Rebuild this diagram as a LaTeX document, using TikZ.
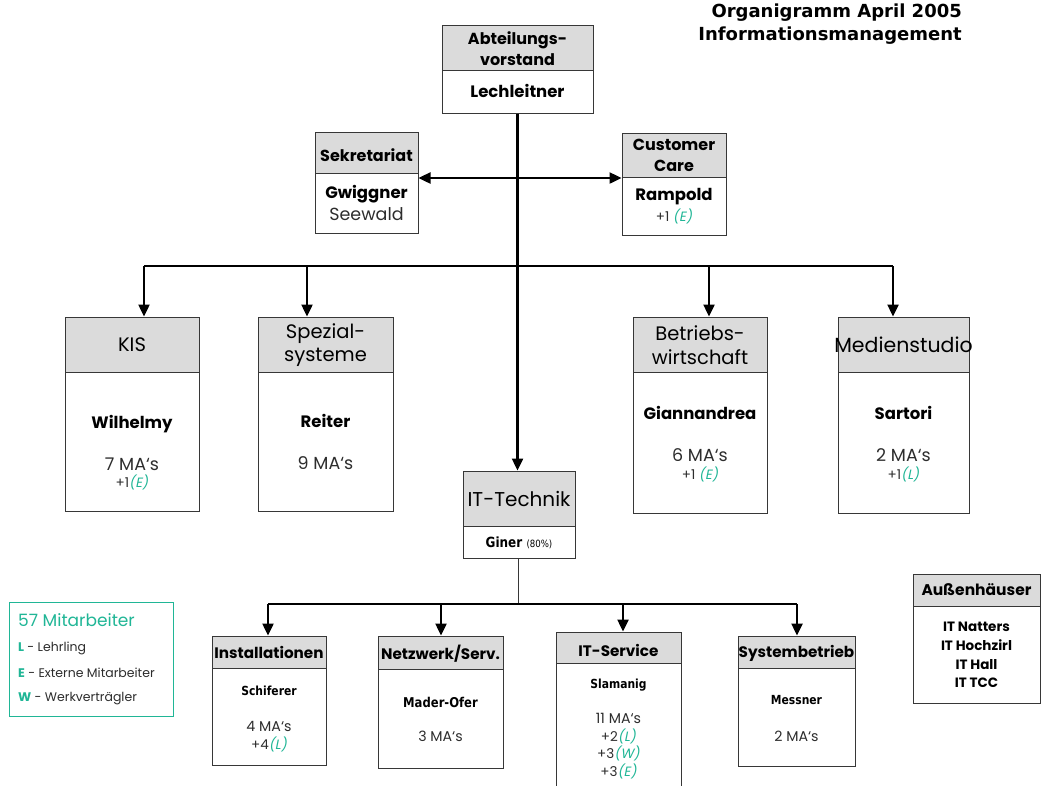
\documentclass[tikz,border=0pt]{standalone}
\usepackage{fontspec}
\usetikzlibrary{arrows.meta,fit,calc}
\newfontfamily\gothic{Poppins}
\newfontfamily\gothicsl{Poppins}[FakeSlant=0.2]
\newfontfamily\tahoma{DejaVu Sans}[FakeStretch=0.86]
\newfontfamily\verd{DejaVu Sans}
\definecolor{hdrfillc}{RGB}{219,219,219}
\definecolor{framec}{RGB}{55,55,55}
\definecolor{accent}{RGB}{32,182,150}
\definecolor{txtgray}{RGB}{45,45,45}
\newcommand\fsz[1]{\fontsize{#1}{#1}\selectfont}
% count line with a coloured, slanted suffix such as +1(E)
\newcommand\ext[2]{#1{\color{accent}\gothicsl(#2)}}
% unit box: gray header band, frame and divider; creates a node spanning the box
\newcommand\orgunit[6]{%
  \fill[hdrfill] (#2,#3) rectangle (#4,#6);
  \draw[unitline] (#2,#6) -- (#4,#6);
  \node[unitframe, fit={(#2,#3) (#4,#5)}] (#1) {};
}
\begin{document}
\begin{tikzpicture}[x=1pt,y=-1pt,
  hdrfill/.style={fill=hdrfillc},
  unitline/.style={draw=framec,line width=1pt},
  unitframe/.style={draw=framec,line width=1pt,inner sep=0pt},
  conn/.style={line width=2.4pt,-{Triangle[width=11pt,length=12pt]}},
  connboth/.style={line width=2.4pt,{Triangle[width=11pt,length=12pt]}-{Triangle[width=11pt,length=12pt]}},
  bus/.style={line width=1.4pt},
  thinbus/.style={line width=0.9pt,draw=framec},
  title/.style={font=\verd\bfseries\fsz{18},align=right,inner sep=0pt},
  hdrA/.style={font=\gothic\bfseries\fsz{16},inner sep=0pt},
  hdrB/.style={font=\gothic\fsz{19.5},inner sep=0pt},
  hdrC/.style={font=\gothic\bfseries\fsz{15.2},inner sep=0pt},
  person/.style={font=\gothic\bfseries\fsz{16.5},inner sep=0pt},
  personsm/.style={font=\tahoma\bfseries\fsz{12.5},inner sep=0pt},
  count/.style={font=\gothic\fsz{17.5},text=txtgray,inner sep=0pt},
  countsm/.style={font=\gothic\fsz{14.2},text=txtgray,inner sep=0pt},
  extra/.style={font=\gothic\fsz{13.5},text=txtgray,inner sep=0pt},
  legend/.style={font=\gothic\fsz{12.5},text=txtgray,inner sep=0pt,anchor=west},
]
\useasboundingbox (0,0) rectangle (1047,785);
\fill[white] (0,0) rectangle (1047,785);

% title
\node[title, anchor=north east] (ttl) at (962,4) {Organigramm April 2005\\[5pt]Informationsmanagement};

% units
\orgunit{av}{442}{25}{593}{113}{70}
\orgunit{sek}{315}{132}{418}{233}{173}
\orgunit{cc}{622}{133}{726}{235}{177}
\orgunit{kis}{65}{317}{199}{511}{372}
\orgunit{spz}{258}{317}{393}{511}{372}
\orgunit{bw}{633}{317}{767}{513}{372}
\orgunit{med}{838}{317}{969}{513}{372}
\orgunit{itt}{463}{471}{575}{558}{526}
\orgunit{inst}{212}{636}{326}{765}{668}
\orgunit{net}{378}{636}{503}{768}{669}
\orgunit{its}{556}{632}{681}{792}{663}
\orgunit{sys}{738}{636}{855}{766}{668}
\orgunit{aus}{913}{574}{1040}{703}{606}

% legend
\node[draw=accent,line width=1pt,inner sep=0pt,fit={(9,602) (173,716)}] (leg) {};
\node[font=\gothic\fsz{17},text=accent,inner sep=0pt,anchor=west] (legt) at (18,620) {57 Mitarbeiter};
\node[legend] (legL) at (18,648) {{\color{accent}\bfseries L} - Lehrling};
\node[legend] (legE) at (18,673) {{\color{accent}\bfseries E} - Externe Mitarbeiter};
\node[legend] (legW) at (18,699) {{\color{accent}\bfseries W} - Werkverträgler};

% Abteilungsvorstand
\node[hdrA] (avh1) at (517.5,40) {Abteilungs-};
\node[hdrA] (avh2) at (517.5,60) {vorstand};
\node[person] (avp) at (517.5,91) {Lechleitner};

% Sekretariat
\node[hdrA] (sekh) at (366.5,155) {Sekretariat};
\node[person] (sekp) at (366.5,194) {Gwiggner};
\node[count] (seks) at (366.5,214) {Seewald};

% Customer Care
\node[hdrA] (cch1) at (674,145) {Customer};
\node[hdrA] (cch2) at (674,166) {Care};
\node[person] (ccp) at (674,197) {Rampold};
\node[extra] (cce) at (674,216) {\ext{+1 }{E}};

% KIS
\node[hdrB] (kish) at (132,345) {KIS};
\node[person] (kisp) at (132,424) {Wilhelmy};
\node[count] (kisc) at (132,464) {7 MA‘s};
\node[extra] (kise) at (132,482) {\ext{+1}{E}};

% Spezialsysteme
\node[hdrB] (spzh1) at (325.5,334) {Spezial-};
\node[hdrB] (spzh2) at (325.5,357) {systeme};
\node[person] (spzp) at (325.5,421) {Reiter};
\node[count] (spzc) at (325.5,463) {9 MA‘s};

% Betriebswirtschaft
\node[hdrB] (bwh1) at (700,333) {Betriebs-};
\node[hdrB] (bwh2) at (700,357) {wirtschaft};
\node[person] (bwp) at (700,413) {Giannandrea};
\node[count] (bwc) at (700,455) {6 MA‘s};
\node[extra] (bwe) at (700,474) {\ext{+1 }{E}};

% Medienstudio
\node[hdrB,font=\gothic\fsz{20.5}] (medh) at (903.5,345) {Medienstudio};
\node[person] (medp) at (903.5,413) {Sartori};
\node[count] (medc) at (903.5,455) {2 MA‘s};
\node[extra] (mede) at (903.5,474) {\ext{+1}{L}};

% IT-Technik
\node[hdrB,font=\gothic\fsz{20}] (itth) at (519,499) {IT-Technik};
\node[person,font=\tahoma\bfseries\fsz{14}] (ittp) at (519,543) {Giner {\mdseries\fsz{10}(80\%)}};

% Installationen
\node[hdrC] (insth) at (269,652) {Installationen};
\node[personsm] (instp) at (269,691) {Schiferer};
\node[countsm] (instc) at (269,726) {4 MA‘s};
\node[extra] (inste) at (269,744) {\ext{+4}{L}};

% Netzwerk/Serv.
\node[hdrC] (neth) at (440.5,654) {Netzwerk/Serv.};
\node[personsm,font=\tahoma\bfseries\fsz{13.5}] (netp) at (440.5,702) {Mader-Ofer};
\node[countsm] (netc) at (440.5,736) {3 MA‘s};

% IT-Service
\node[hdrC] (itsh) at (618.5,650) {IT-Service};
\node[personsm] (itsp) at (618.5,685) {Slamanig};
\node[countsm] (itsc) at (618.5,718) {11 MA‘s};
\node[extra] (itse1) at (618.5,736) {\ext{+2}{L}};
\node[extra] (itse2) at (618.5,753) {\ext{+3}{W}};
\node[extra] (itse3) at (618.5,771) {\ext{+3}{E}};

% Systembetrieb
\node[hdrC] (sysh) at (796.5,653) {Systembetrieb};
\node[personsm] (sysp) at (796.5,700) {Messner};
\node[countsm] (sysc) at (796.5,736) {2 MA‘s};

% Außenhäuser
\node[hdrA,font=\gothic\bfseries\fsz{15.5}] (aush) at (976.5,590) {Außenhäuser};
\node[align=center,inner sep=0pt,font=\gothic\bfseries\fontsize{13.5}{18.7}\selectfont] (ausp) at (976.5,655)
  {IT Natters\\IT Hochzirl\\IT Hall\\IT TCC};

% connectors: top level
\draw[conn] (av.south) -- (av.south |- itt.north);
\coordinate (sc) at (366,178);
\draw[connboth] (sek.east |- sc) -- (cc.west |- sc);

% connectors: first bus
\coordinate (b1) at (144,266);
\coordinate (b2) at (307,266);
\coordinate (b3) at (709,266);
\coordinate (b4) at (893,266);
\draw[bus] (b1) -- (b4);
\draw[conn] (b1) -- (b1 |- kis.north);
\draw[conn] (b2) -- (b2 |- spz.north);
\draw[conn] (b3) -- (b3 |- bw.north);
\draw[conn] (b4) -- (b4 |- med.north);

% connectors: IT-Technik bus
\coordinate (c0) at (518,604);
\coordinate (c1) at (268,604);
\coordinate (c2) at (441,604);
\coordinate (c3) at (623,604);
\coordinate (c4) at (797,604);
\draw[thinbus] (itt.south -| c0) -- (c0);
\draw[bus] (c1) -- (c4);
\draw[conn] (c1) -- (c1 |- inst.north);
\draw[conn] (c2) -- (c2 |- net.north);
\draw[conn] (c3) -- (c3 |- its.north);
\draw[conn] (c4) -- (c4 |- sys.north);
\end{tikzpicture}
\end{document}
